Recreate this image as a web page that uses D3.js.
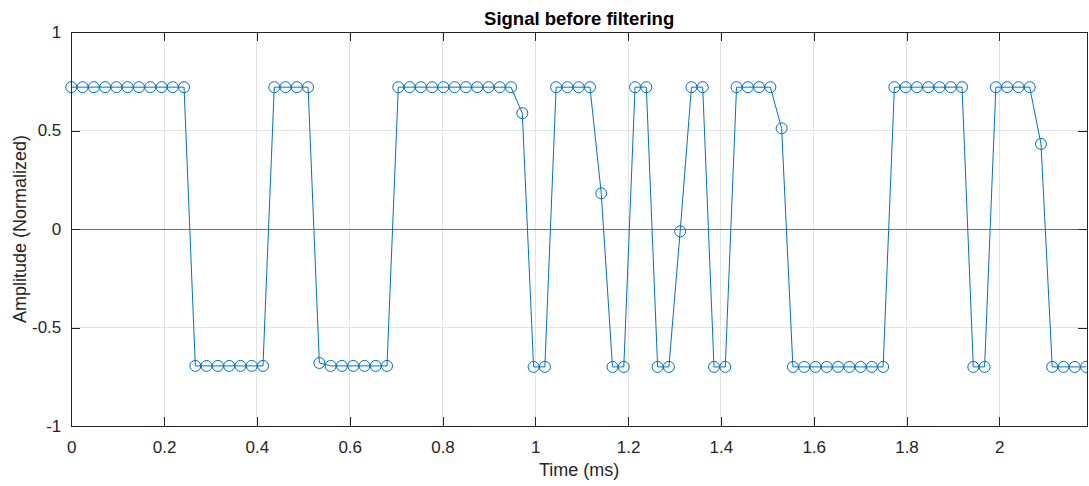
<!DOCTYPE html>
<html>
<head>
<meta charset="utf-8">
<script src="https://cdn.jsdelivr.net/npm/d3@7"></script>
<style>
  html, body { margin: 0; padding: 0; background: #fff; }
  svg { display: block; font-family: "Liberation Sans", Arial, Helvetica, sans-serif; }
</style>
</head>
<body>
<svg id="chart" width="1089" height="486"></svg>
<script>
// Sampled signal amplitudes (normalized), one per sample
const amplitude = [
  0.72, 0.72, 0.72, 0.72, 0.72, 0.72, 0.72, 0.72, 0.72, 0.72, 0.72,
  -0.695, -0.695, -0.695, -0.695, -0.695, -0.695, -0.695,
  0.72, 0.72, 0.72, 0.72,
  -0.68, -0.695, -0.695, -0.695, -0.695, -0.695, -0.695,
  0.72, 0.72, 0.72, 0.72, 0.72, 0.72, 0.72, 0.72, 0.72, 0.72, 0.72,
  0.588,
  -0.70, -0.70,
  0.72, 0.72, 0.72, 0.72,
  0.181,
  -0.70, -0.70,
  0.72, 0.72,
  -0.70, -0.70,
  -0.012,
  0.72, 0.72,
  -0.70, -0.70,
  0.72, 0.72, 0.72, 0.72,
  0.511,
  -0.70, -0.70, -0.70, -0.70, -0.70, -0.70, -0.70, -0.70, -0.70,
  0.72, 0.72, 0.72, 0.72, 0.72, 0.72, 0.72,
  -0.70, -0.70,
  0.72, 0.72, 0.72, 0.72,
  0.432,
  -0.70, -0.70, -0.70, -0.70
];

// Sample period in milliseconds; time stamps follow from the sample index
const samplePeriodMs = 0.0243;
const timeMs = amplitude.map((_, i) => i * samplePeriodMs);

const xTicks = [0, 0.2, 0.4, 0.6, 0.8, 1, 1.2, 1.4, 1.6, 1.8, 2];
const xTickLabels = ["0", "0.2", "0.4", "0.6", "0.8", "1", "1.2", "1.4", "1.6", "1.8", "2"];
const yTicks = [-1, -0.5, 0, 0.5, 1];
const yTickLabels = ["-1", "-0.5", "0", "0.5", "1"];
const xDomain = [0, 2.189];
const yDomain = [-1, 1];

const titleText = "Signal before filtering";
const xLabelText = "Time (ms)";
const yLabelText = "Amplitude (Normalized)";

const svg = d3.select("#chart");
const W = 1089, H = 486;
const margin = { left: 71.3, top: 32, right: 2, bottom: 60 };
const iw = W - margin.left - margin.right;
const ih = H - margin.top - margin.bottom;

const x = d3.scaleLinear().domain(xDomain).range([0, iw]);
const y = d3.scaleLinear().domain(yDomain).range([ih, 0]);

const g = svg.append("g").attr("transform", `translate(${margin.left},${margin.top})`);

const axisColor = "#262626";
const gridColor = "#e3e3e3";
const lineColor = "#0072BD";
const tickLen = 9;

// grid
g.append("g").selectAll("line").data(xTicks).join("line")
  .attr("x1", d => x(d)).attr("x2", d => x(d))
  .attr("y1", 0).attr("y2", ih)
  .attr("stroke", gridColor).attr("stroke-width", 1)
  .attr("shape-rendering", "crispEdges");
g.append("g").selectAll("line").data(yTicks).join("line")
  .attr("y1", d => y(d)).attr("y2", d => y(d))
  .attr("x1", 0).attr("x2", iw)
  .attr("stroke", gridColor).attr("stroke-width", 1)
  .attr("shape-rendering", "crispEdges");

// zero reference line
g.append("line")
  .attr("x1", 0).attr("x2", iw)
  .attr("y1", y(0)).attr("y2", y(0))
  .attr("stroke", "#D95319").attr("stroke-width", 1)
  .attr("shape-rendering", "crispEdges");

// clip region for the signal
svg.append("defs").append("clipPath").attr("id", "plotClip")
  .append("rect").attr("x", -8).attr("y", -8).attr("width", iw + 8).attr("height", ih + 16);

const plot = g.append("g").attr("clip-path", "url(#plotClip)");

const pts = timeMs.map((t, i) => [t, amplitude[i]]);

plot.append("path")
  .datum(pts)
  .attr("fill", "none")
  .attr("stroke", lineColor)
  .attr("stroke-width", 1)
  .attr("d", d3.line().x(d => x(d[0])).y(d => y(d[1])));

plot.append("g").selectAll("circle").data(pts).join("circle")
  .attr("cx", d => x(d[0]))
  .attr("cy", d => y(d[1]))
  .attr("r", 5.5)
  .attr("fill", "none")
  .attr("stroke", lineColor)
  .attr("stroke-width", 1);

// axes: ticks pointing inward on all four sides
const xAxisBottom = d3.axisBottom(x).tickValues(xTicks).tickSize(-tickLen).tickPadding(tickLen + 6)
  .tickFormat((d, i) => xTickLabels[i]);
const xAxisTop = d3.axisTop(x).tickValues(xTicks).tickSize(-tickLen).tickFormat("");
const yAxisLeft = d3.axisLeft(y).tickValues(yTicks).tickSize(-tickLen).tickPadding(tickLen + 1)
  .tickFormat((d, i) => yTickLabels[i]);
const yAxisRight = d3.axisRight(y).tickValues(yTicks).tickSize(-tickLen).tickFormat("");

function styleAxis(sel) {
  sel.selectAll("path.domain").attr("stroke", axisColor).attr("stroke-width", 1);
  sel.selectAll(".tick line").attr("stroke", axisColor).attr("stroke-width", 1);
  sel.selectAll(".tick text").attr("fill", axisColor).attr("font-size", 17)
    .attr("font-family", "'Liberation Sans', Arial, Helvetica, sans-serif");
  sel.attr("shape-rendering", "crispEdges");
}

g.append("g").attr("transform", `translate(0,${ih})`).call(xAxisBottom.tickSizeOuter(0)).call(styleAxis);
g.append("g").call(xAxisTop.tickSizeOuter(0)).call(styleAxis);
g.append("g").call(yAxisLeft.tickSizeOuter(0)).call(styleAxis);
g.append("g").attr("transform", `translate(${iw},0)`).call(yAxisRight.tickSizeOuter(0)).call(styleAxis);

// title and axis labels
svg.append("text")
  .attr("x", margin.left + iw / 2).attr("y", 25)
  .attr("text-anchor", "middle")
  .attr("font-size", 18.5).attr("font-weight", "bold").attr("fill", "#000")
  .text(titleText);

svg.append("text")
  .attr("x", margin.left + iw / 2).attr("y", 476)
  .attr("text-anchor", "middle")
  .attr("font-size", 18).attr("fill", axisColor)
  .text(xLabelText);

svg.append("text")
  .attr("transform", `translate(26,${margin.top + ih / 2}) rotate(-90)`)
  .attr("text-anchor", "middle")
  .attr("font-size", 18).attr("fill", axisColor)
  .text(yLabelText);
</script>
</body>
</html>
